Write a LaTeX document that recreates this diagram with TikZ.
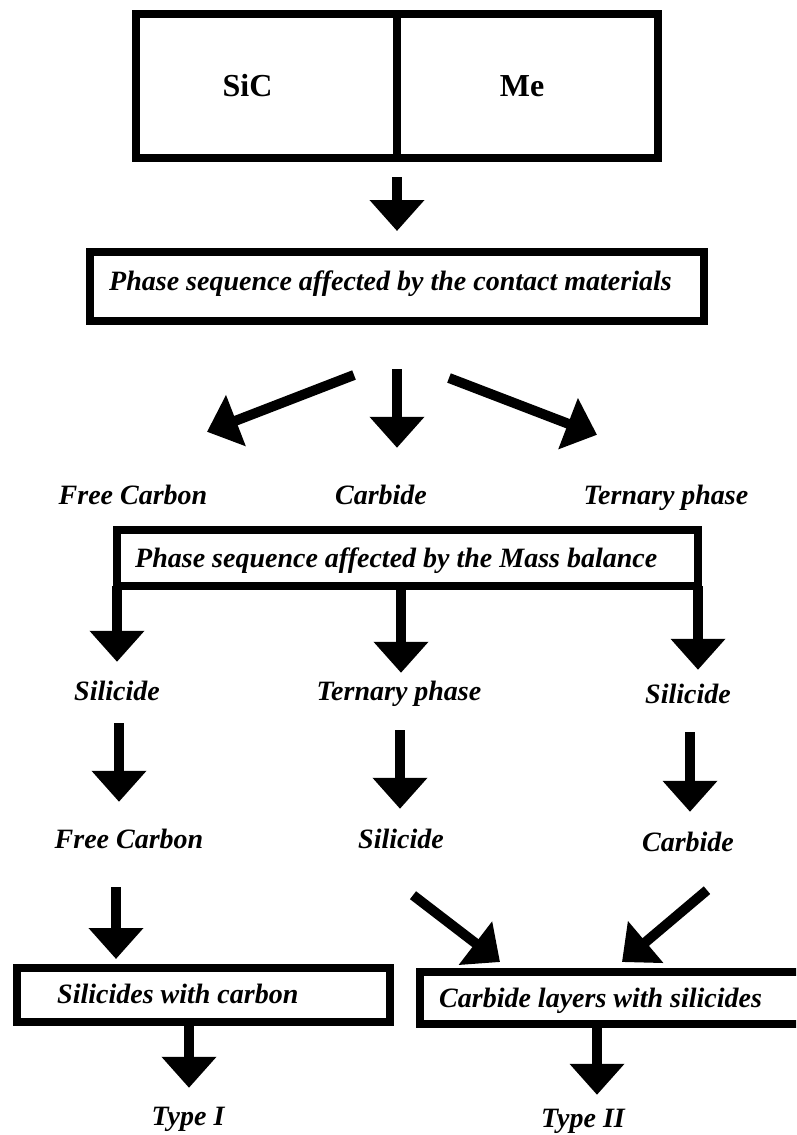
\documentclass[tikz,border=0pt]{standalone}
\usepackage{fontspec}
\setmainfont{Liberation Serif}
\usetikzlibrary{arrows.meta,calc}

\begin{document}
\begin{tikzpicture}[x=1pt,y=-1pt,
  frame/.style={draw, line width=8pt, outer sep=0pt, inner sep=0pt},
  phase/.style={font=\fontsize{28}{30}\selectfont\bfseries\itshape},
  cellbox/.style={frame, minimum width=261pt, minimum height=144pt},
  celltext/.style={font=\fontsize{32}{34}\selectfont\bfseries},
  boxtext/.style={phase, anchor=base west, inner sep=0pt},
  item/.style={phase, anchor=base, inner sep=0pt, text height=20pt, text depth=7pt},
  flow/.style={line width=10pt, -{Triangle[width=53pt,length=31pt]}},
]
\useasboundingbox (0,0) rectangle (796,1135);
\clip (0,0) rectangle (796,1135);

% the contact couple
\node[cellbox, label={[celltext, xshift=-19pt]center:SiC}] (sic) at (266.5,86) {};
\node[cellbox, label={[celltext, xshift=-5.5pt]center:Me}] (me) at (527.5,86) {};

% first selection stage
\node[frame, minimum width=614pt, minimum height=69pt] (p1) at (397,286.5) {};
\node[boxtext] (p1t) at (109,290) {Phase sequence affected by the contact materials};

\node[item] (fc1)   at (133,504) {Free Carbon};
\node[item] (carb1) at (381,504) {Carbide};
\node[item] (tern1) at (666,504) {Ternary phase};

% second selection stage
\node[frame, minimum width=581pt, minimum height=56pt] (p2) at (407.5,558) {};
\node[boxtext] (p2t) at (135,567) {Phase sequence affected by the Mass balance};

\node[item] (sil1)  at (117,700) {Silicide};
\node[item] (tern2) at (399,700) {Ternary phase};
\node[item] (sil1r) at (688,703) {Silicide};

\node[item] (fc2)  at (129,848) {Free Carbon};
\node[item] (sil2) at (401,848) {Silicide};
\node[item] (carb2) at (688,851) {Carbide};

% resulting reaction layers
\node[frame, minimum width=373pt, minimum height=54pt] (b1) at (203.5,995) {};
\node[boxtext] (b1t) at (57,1003) {Silicides with carbon};
\node[frame, minimum width=400pt, minimum height=52pt] (b2) at (620,998) {};
\node[boxtext] (b2t) at (439,1007) {Carbide layers with silicides};

\node[item] (t1) at (188,1125) {Type I};
\node[item] (t2) at (583,1127) {Type II};

% connectors
\draw[flow, shorten <=19pt, shorten >=21pt] (sic.south east) -- (p1.north);

\draw[flow] ($(p1.south)+(-43,54)$) -- ($(fc1.north)+(74,-52)$);
\draw[flow, shorten <=48pt, shorten >=36pt] ([xshift=0pt]p1.south) -- ([xshift=16pt]carb1.north);
\draw[flow] ($(p1.south)+(52,57)$) -- ($(tern1.north)+(-69,-49)$);

\draw[flow, shorten >=18pt] (p2.south west) -- (sil1.north);
\draw[flow, shorten >=7pt] ([xshift=-6.5pt]p2.south) -- ([xshift=2pt]tern2.north);
\draw[flow, shorten >=13pt] (p2.south east) -- ([xshift=10pt]sil1r.north);

\draw[flow, shorten <=16pt, shorten >=26pt] ([xshift=2pt]sil1.south) -- ([xshift=-10pt]fc2.north);
\draw[flow, shorten <=23pt, shorten >=19pt] ([xshift=1pt]tern2.south) -- ([xshift=-1pt]sil2.north);
\draw[flow, shorten <=22pt, shorten >=19pt] ([xshift=2pt]sil1r.south) -- ([xshift=2pt]carb2.north);

\draw[flow, shorten <=32pt, shorten >=9pt] ([xshift=-13pt]fc2.south) -- ([xshift=-87.5pt]b1.north);
\draw[flow] ($(sil2.south)+(12,40)$) -- ($(b2.north)+(-120,-10)$);
\draw[flow] ($(carb2.south)+(19,32)$) -- ($(b2.north)+(2,-10)$);

\draw[flow, shorten >=17pt] ([xshift=-14.5pt]b1.south) -- ([xshift=1pt]t1.north);
\draw[flow, shorten >=12pt] ([xshift=-23pt]b2.south) -- ([xshift=14pt]t2.north);
\end{tikzpicture}
\end{document}
